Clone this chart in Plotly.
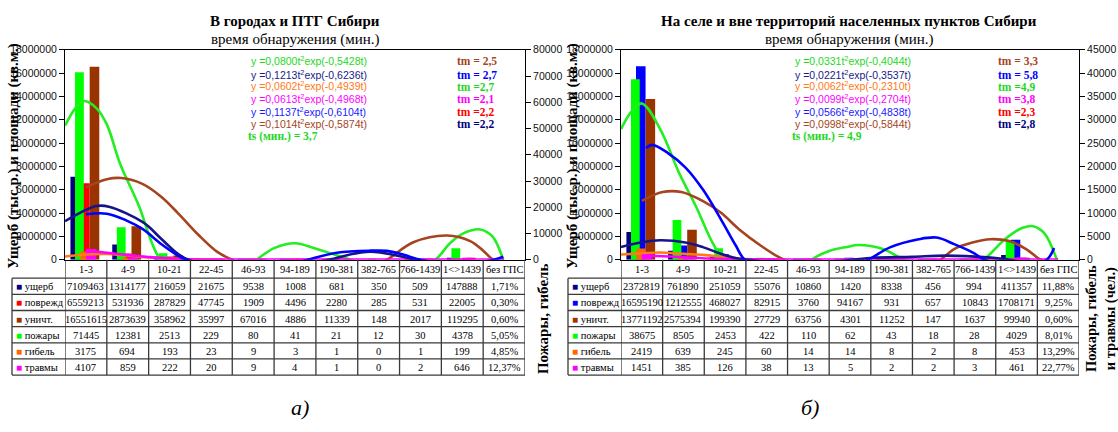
import plotly.graph_objects as go

W, H = 1118, 432

# ---------------- data ----------------
categories = ["1-3", "4-9", "10-21", "22-45", "46-93", "94-189", "190-381",
              "382-765", "766-1439", "1<>1439", "без ГПС"]
bar_positions = list(range(10))          # first 10 categories carry bars

row_labels = ["ущерб", "поврежд", "уничт.", "пожары", "гибель", "травмы"]

# left chart: towns
L_damage = [7109463, 1314177, 216059, 21675, 9538, 1008, 681, 350, 509, 147888]
L_damaged = [6559213, 531936, 287829, 47745, 1909, 4496, 2280, 285, 531, 22005]
L_destroyed = [16551615, 2873639, 358962, 35997, 67016, 4886, 11339, 148, 2017, 119295]
L_fires = [71445, 12381, 2513, 229, 80, 41, 21, 12, 30, 4378]
L_deaths = [3175, 694, 193, 23, 9, 3, 1, 0, 1, 199]
L_injuries = [4107, 859, 222, 20, 9, 4, 1, 0, 2, 646]
L_no_gps = ["1,71%", "0,30%", "0,60%", "5,05%", "4,85%", "12,37%"]

# right chart: rural
R_damage = [2372819, 761890, 251059, 55076, 10860, 1420, 8338, 456, 994, 411357]
R_damaged = [16595190, 1212555, 468027, 82915, 3760, 94167, 931, 657, 10843, 1708171]
R_destroyed = [13771192, 2575394, 199390, 27729, 63756, 4301, 11252, 147, 1637, 99940]
R_fires = [38675, 8505, 2453, 422, 110, 62, 43, 18, 28, 4029]
R_deaths = [2419, 639, 245, 60, 14, 14, 8, 2, 8, 453]
R_injuries = [1451, 385, 126, 38, 13, 5, 2, 2, 3, 461]
R_no_gps = ["11,88%", "9,25%", "0,60%", "8,01%", "13,29%", "22,77%"]

# smoothed trend curves (t = category index, v = left-axis units)
L_green_t = [-0.5, -0.25, -0.05, 0.25, 0.5, 0.82, 1.28, 1.54, 1.78, 2.4, 3.3, 4.08, 4.5, 5.0, 5.5, 6.34, 7.0, 7.7, 8.35, 8.7, 9.05, 9.43, 9.72, 9.98]
L_green_v = [11.5e6, 13.0e6, 13.6e6, 13.0e6, 11.6e6, 8.2e6, 4.5e6, 1.8e6, 0, -2.0e6, -2.0e6, 0, 1.0e6, 1.42e6, 0.95e6, 0, -0.7e6, -0.7e6, 0, 1.4e6, 2.3e6, 2.6e6, 2.0e6, 0]
L_brown_t = [0.0, 0.5, 0.85, 1.35, 1.8, 2.2, 2.7, 3.15, 3.5, 4.5, 5.5, 6.5, 7.2, 7.83, 8.64, 9.19, 9.5, 9.74, 10.2]
L_brown_v = [6.2e6, 6.9e6, 7.0e6, 6.5e6, 5.4e6, 4.0e6, 2.1e6, 0.65e6, 0, -1.5e6, -2.0e6, -1.2e6, 0, 1.5e6, 2.08e6, 1.6e6, 0.78e6, 0, -0.5e6]
L_navy_t = [-0.5, 0.25, 0.55, 1.37, 1.8, 2.2, 2.45, 3.5, 4.8, 5.8, 6.8, 7.9, 8.6]
L_navy_v = [3.3e6, 4.6e6, 4.55e6, 3.2e6, 1.8e6, 0.5e6, 0, -0.8e6, -0.8e6, 0, 0.7e6, 0, -0.3e6]
L_blue_t = [0.0, 0.5, 0.95, 1.37, 1.8, 2.2, 2.4, 3.5, 4.5, 5.3, 6.0, 6.8, 7.2, 7.6, 8.0, 8.8, 9.75, 9.98]
L_blue_v = [3.9e6, 3.95e6, 3.4e6, 2.6e6, 1.35e6, 0.36e6, 0, -1.0e6, -0.8e6, 0, 0.6e6, 0.78e6, 0.76e6, 0.42e6, 0, -0.5e6, 0, 0.25e6]
L_orange_t = [-0.5, 0.0, 0.5, 1.0, 1.5, 2.2, 2.8, 3.2]
L_orange_v = [0.28e6, 0.45e6, 0.5e6, 0.36e6, 0.2e6, 0.05e6, 0, -0.1e6]
L_magenta_t = [0.0, 0.5, 1.0, 1.6, 2.3, 3.0, 10.0]
L_magenta_v = [0.78e6, 0.6e6, 0.4e6, 0.2e6, 0.05e6, 0.02e6, 0.02e6]

R_green_t = [-0.5, -0.25, 0.0, 0.44, 0.9, 1.31, 1.65, 1.95, 2.6, 3.4, 4.07, 4.5, 4.93, 5.2, 5.79, 6.3, 7.0, 7.6, 8.2, 8.72, 9.15, 9.4, 9.66, 9.97]
R_green_v = [11.2e6, 12.7e6, 13.4e6, 11.2e6, 7.4e6, 4.5e6, 1.8e6, 0, -2.0e6, -2.0e6, 0, 0.75e6, 1.1e6, 1.26e6, 0.92e6, 0, -0.8e6, -0.8e6, 0, 1.76e6, 2.74e6, 2.88e6, 2.3e6, 0]
R_blue_t = [0.1, 0.25, 0.62, 1.05, 1.48, 1.91, 2.26, 2.47, 3.4, 4.5, 5.44, 5.96, 6.65, 7.08, 7.5, 7.94, 8.24, 9.0, 9.72, 9.9]
R_blue_v = [9.57e6, 9.85e6, 9.16e6, 7.9e6, 5.95e6, 3.4e6, 1.2e6, 0, -2.0e6, -1.5e6, 0, 1.06e6, 1.76e6, 1.9e6, 1.34e6, 0.64e6, 0, -0.6e6, 0, 1.0e6]
R_brown_t = [0.0, 0.5, 0.95, 1.48, 1.91, 2.34, 2.86, 3.29, 3.42, 4.5, 5.5, 6.5, 7.17, 7.5, 7.94, 8.37, 8.8, 9.23, 9.58, 10.0]
R_brown_v = [5.05e6, 5.8e6, 5.8e6, 5.0e6, 4.0e6, 2.6e6, 1.2e6, 0.22e6, 0, -1.5e6, -2.0e6, -1.2e6, 0, 0.92e6, 1.48e6, 1.76e6, 1.62e6, 0.92e6, 0, -0.4e6]
R_navy_t = [-0.5, 0.0, 0.44, 1.05, 1.48, 1.91, 2.34, 2.55, 3.5, 4.5, 5.5, 6.5, 7.3, 8.3, 9.0]
R_navy_v = [1.09e6, 1.5e6, 1.67e6, 1.48e6, 1.06e6, 0.5e6, 0.08e6, 0, -0.3e6, -0.2e6, 0.15e6, 0.25e6, 0.35e6, 0.2e6, -0.1e6]
R_orange_t = [-0.5, 0.0, 0.44, 1.0, 1.48, 2.0, 2.5, 3.0]
R_orange_v = [0.45e6, 0.55e6, 0.62e6, 0.5e6, 0.42e6, 0.22e6, 0.06e6, -0.1e6]
R_magenta_t = [0.0, 0.5, 1.0, 1.6, 2.5, 3.5, 10.0]
R_magenta_v = [0.36e6, 0.3e6, 0.22e6, 0.1e6, 0.04e6, 0.02e6, 0.02e6]

L_equations = ["0,0800", "0,5428", "0,1213", "0,6236", "0,0602", "0,4939",
               "0,0613", "0,4968", "0,1137", "0,6104", "0,1014", "0,5874"]
R_equations = ["0,0331", "0,4044", "0,0221", "0,3537", "0,0062", "0,2310",
               "0,0099", "0,2704", "0,0566", "0,4838", "0,0998", "0,5844"]
L_tm = ["tm = 2,5", "tm = 2,7", "tm =2,7", "tm =2,1", "tm =2,2", "tm =2,2"]
R_tm = ["tm = 3,3", "tm = 5,8", "tm =4,9", "tm =3,8", "tm =2,3", "tm =2,8"]
L_ts = "ts (мин.) = 3,7"
R_ts = "ts (мин.) = 4,9"

# ---------------- styling ----------------
NAVY, RED, BLUE, BROWN = "#000080", "#FF0000", "#0000FF", "#993300"
GREEN, ORANGE, MAGENTA = "#00FF00", "#FF6600", "#FF00FF"
SERIF = "Liberation Serif"
SANS = "Liberation Sans"
GRID = "#3a3a3a"


def px(x):
    return x / W


def py(y):
    return 1 - y / H


def esc(s):
    return s.replace("&", "&amp;").replace("<", "&lt;").replace(">", "&gt;")


fig = go.Figure()

charts = [
    dict(x="x", y="y", y2="y2", yc="y5",
         prim=[L_damage, L_damaged, L_destroyed], prim_col=[NAVY, RED, BROWN],
         sec=[L_fires, L_deaths, L_injuries],
         curves=[(L_green_t, L_green_v, "#22EE22"), (L_brown_t, L_brown_v, "#A5441F"),
                 (L_orange_t, L_orange_v, "#FF7A1A"), (L_magenta_t, L_magenta_v, MAGENTA),
                 (L_navy_t, L_navy_v, "#14148C"), (L_blue_t, L_blue_v, BLUE)],
         nogps=L_no_gps, x0=65, x1=525, tx0=12, colors2=[NAVY, RED, BROWN, GREEN, ORANGE, MAGENTA]),
    dict(x="x2", y="y3", y2="y4", yc="y6",
         prim=[R_damage, R_damaged, R_destroyed], prim_col=[NAVY, BLUE, BROWN],
         sec=[R_fires, R_deaths, R_injuries],
         curves=[(R_green_t, R_green_v, "#22EE22"), (R_brown_t, R_brown_v, "#A5441F"),
                 (R_orange_t, R_orange_v, "#FF7A1A"), (R_magenta_t, R_magenta_v, MAGENTA),
                 (R_navy_t, R_navy_v, "#14148C"), (R_blue_t, R_blue_v, BLUE)],
         nogps=R_no_gps, x0=621, x1=1079, tx0=568, colors2=[NAVY, BLUE, BROWN, GREEN, ORANGE, MAGENTA]),
]

prim_offsets = [-0.37, -0.14, 0.09]
sec_style = [(GREEN, -0.26, 0.21), (ORANGE, -0.13, 0.22), (MAGENTA, 0.0, 0.25)]

shapes = []
ann = []


def text(x, y, s, size, color="black", family=SERIF, bold=False, anchor="center",
         angle=0, italic=False, xref="paper"):
    if bold:
        s = "<b>%s</b>" % s
    if italic:
        s = "<i>%s</i>" % s
    ann.append(dict(x=(px(x) if xref == "paper" else x), y=py(y), xref=xref, yref="paper",
                    text=s, showarrow=False, xanchor=anchor, yanchor="middle",
                    textangle=angle, font=dict(family=family, size=size, color=color)))


# table geometry (pixels)
HEAD_TOP, HEAD_BOT = 261, 280
ROW_H = 16.6
N_ROWS = 6

for ch in charts:
    for vals, col, off in zip(ch["prim"], ch["prim_col"], prim_offsets):
        fig.add_trace(go.Bar(x=bar_positions, y=vals, xaxis=ch["x"], yaxis=ch["y"],
                             marker=dict(color=col, line=dict(width=0)),
                             offset=off, width=0.23, showlegend=False, hoverinfo="skip"))
    for vals, (col, off, wid) in zip(ch["sec"], sec_style):
        fig.add_trace(go.Bar(x=bar_positions, y=vals, xaxis=ch["x"], yaxis=ch["y2"],
                             marker=dict(color=col, line=dict(width=0)),
                             offset=off, width=wid, showlegend=False, hoverinfo="skip"))
    for t, v, col in ch["curves"]:
        fig.add_trace(go.Scatter(x=t, y=v, xaxis=ch["x"], yaxis=ch["yc"], mode="lines",
                                 line=dict(color=col, width=2.6, shape="spline", smoothing=1.0),
                                 showlegend=False, hoverinfo="skip"))

    # ---- data table below the plot, aligned with the category axis ----
    xr = ch["x"]
    n = len(categories)
    bottom = HEAD_BOT + ROW_H * N_ROWS
    for k in range(n + 1):
        shapes.append(dict(type="line", xref=xr, yref="paper", x0=k - 0.5, x1=k - 0.5,
                           y0=py(HEAD_TOP), y1=py(bottom), line=dict(color=GRID, width=1.3)))
    shapes.append(dict(type="line", xref="paper", yref="paper", x0=px(ch["tx0"]), x1=px(ch["tx0"]),
                       y0=py(HEAD_BOT), y1=py(bottom), line=dict(color=GRID, width=1.3)))
    for r in range(N_ROWS + 1):
        yy = HEAD_BOT + ROW_H * r
        shapes.append(dict(type="line", xref="paper", yref="paper", x0=px(ch["tx0"]), x1=px(ch["x1"]),
                           y0=py(yy), y1=py(yy), line=dict(color=GRID, width=1.3)))
    for i, c in enumerate(categories):
        text(i, (HEAD_TOP + HEAD_BOT) / 2 + 0.5, esc(c), 10.5, xref=xr)
    rows = [ch["prim"][0], ch["prim"][1], ch["prim"][2], ch["sec"][0], ch["sec"][1], ch["sec"][2]]
    for r in range(N_ROWS):
        yc = HEAD_BOT + ROW_H * (r + 0.5) + 0.5
        lab = '<span style="color:%s;font-size:10px">■</span> %s' % (ch["colors2"][r], row_labels[r])
        text(ch["tx0"] + 2, yc, lab, 10.5, anchor="left")
        for j in range(10):
            text(j, yc, str(rows[r][j]), 10.5, xref=xr)
        text(10, yc, ch["nogps"][r], 10.5, xref=xr)

axis_common = dict(showgrid=False, zeroline=False, showline=True, linecolor="black",
                   linewidth=1, ticks="outside", ticklen=5, tickcolor="black",
                   tickfont=dict(family=SANS, size=10.5, color="#111111"), fixedrange=True)
ydom = [py(261), py(45)]
hidden = dict(range=[0, 18e6], visible=False, showticklabels=False, showgrid=False,
              zeroline=False, fixedrange=True)

fig.update_layout(
    width=W, height=H, margin=dict(l=0, r=0, t=0, b=0),
    paper_bgcolor="white", plot_bgcolor="white", barmode="overlay",
    xaxis=dict(domain=[px(65), px(525)], anchor="y", range=[-0.5, 10.5], showticklabels=False,
               ticks="", showline=True, mirror=True, linecolor="black", showgrid=False,
               zeroline=False, fixedrange=True),
    yaxis=dict(domain=ydom, anchor="x", range=[0, 18e6], dtick=2e6, tickformat="d", **axis_common),
    yaxis2=dict(overlaying="y", side="right", anchor="x", range=[0, 80000], dtick=10000,
                tickformat="d", **axis_common),
    yaxis5=dict(overlaying="y", anchor="x", **hidden),
    xaxis2=dict(domain=[px(621), px(1079)], anchor="y3", range=[-0.5, 10.5], showticklabels=False,
                ticks="", showline=True, mirror=True, linecolor="black", showgrid=False,
                zeroline=False, fixedrange=True),
    yaxis3=dict(domain=ydom, anchor="x2", range=[0, 18e6], dtick=2e6, tickformat="d", **axis_common),
    yaxis4=dict(overlaying="y3", side="right", anchor="x2", range=[0, 45000], dtick=5000,
                tickformat="d", **axis_common),
    yaxis6=dict(overlaying="y3", anchor="x2", **hidden),
)

# titles
text(295, 15, "В городах и ПТГ Сибири", 15, bold=True)
text(295, 34, "время обнаружения (мин.)", 15)
text(849, 15, "На селе и вне территорий населенных пунктов Сибири", 15, bold=True)
text(849, 34, "время обнаружения (мин.)", 15)

# axis titles
text(14, 154, "Ущерб (тыс.р.) и площади (кв.м.)", 15, bold=True, angle=-90)
text(573, 154, "Ущерб (тыс.р.) и площади (кв.м.)", 15, bold=True, angle=-90)
text(543, 322, "Пожары, гибель", 15, bold=True, angle=-90)
text(1101, 322, "Пожары, гибель<br>и травмы (чел.)", 14.5, bold=True, angle=-90)

eq_colors = ["#1ED81E", "#1A1A8C", "#FF7A1A", "#FF00FF", "#1A1AFF", "#A5441F"]
tm_colors = ["#A5441F", "#0000FF", "#1ED81E", "#FF00FF", "#FF0000", "#000080"]
eq_y = [56, 70, 82, 95, 108, 121]
tm_y = [57, 71, 83, 96, 109, 121]
for eqs, tms, ts, ex, tx in [(L_equations, L_tm, L_ts, 249, 455), (R_equations, R_tm, R_ts, 793, 996)]:
    for i in range(6):
        s = "y =%st<sup>2</sup>exp(-%st)" % (eqs[2 * i], eqs[2 * i + 1])
        text(ex, eq_y[i], s, 10.5, color=eq_colors[i], family=SANS, anchor="left")
        text(tx, tm_y[i], tms[i], 11.5, color=tm_colors[i], bold=True, anchor="left")
    text(ex - 3, 134, ts, 11.5, color="#1ED81E", bold=True, anchor="left")

text(300, 413, "а)", 22, italic=True)
text(810, 413, "б)", 22, italic=True)

fig.update_layout(annotations=ann, shapes=shapes)
fig.write_html("out.html")
